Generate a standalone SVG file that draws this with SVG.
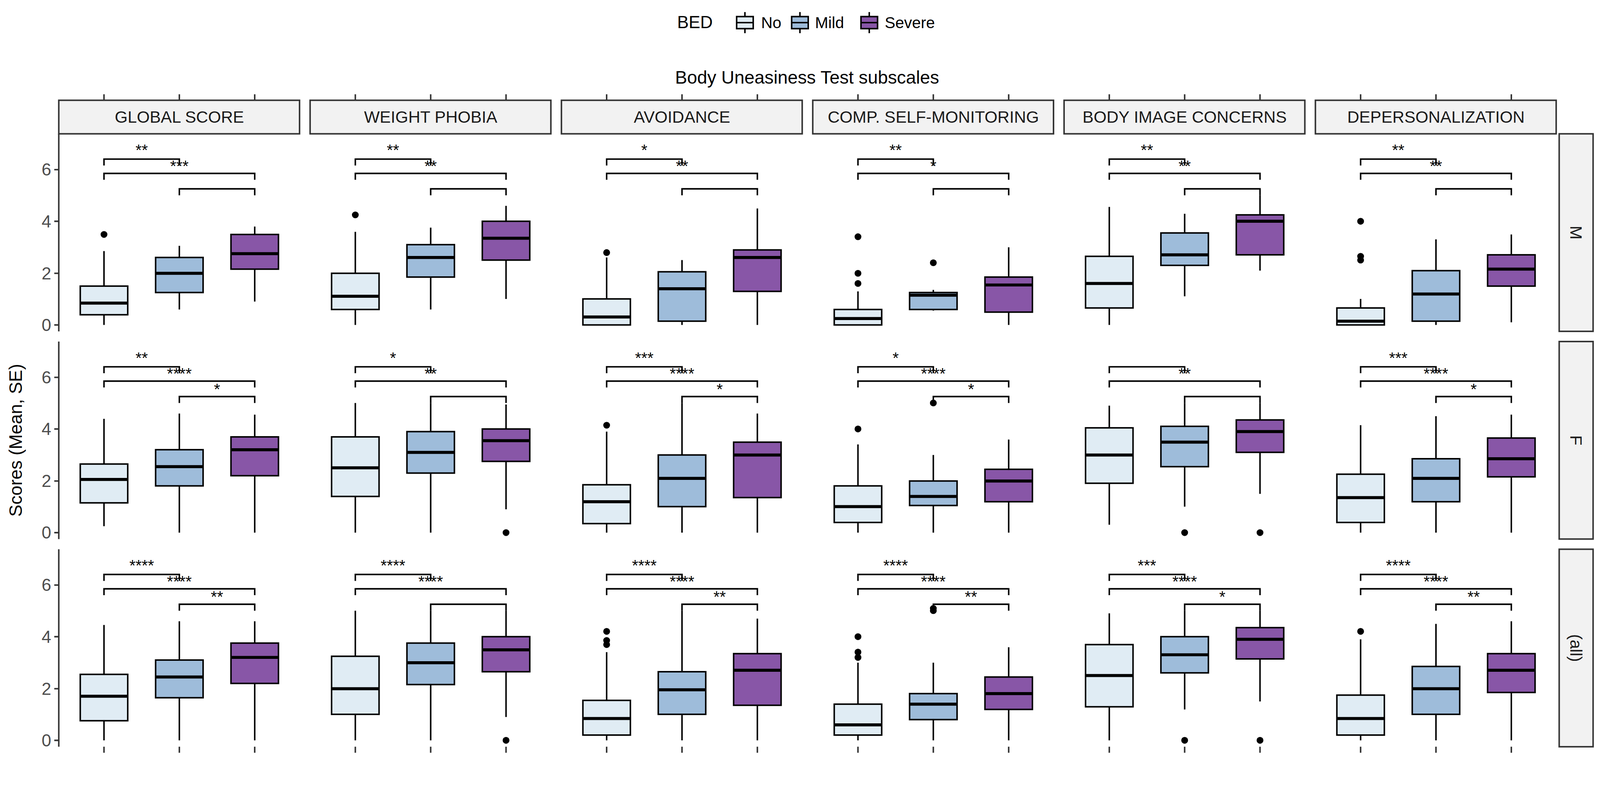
<svg xmlns="http://www.w3.org/2000/svg" xmlns:xlink="http://www.w3.org/1999/xlink" width="4251" height="2019" viewBox="0 0 4251 2019">
<style>
text{font-family:"Liberation Sans",Arial,sans-serif}
.n{fill:#E0ECF4;stroke:#000;stroke-width:4}
.m{fill:#9EBCDA;stroke:#000;stroke-width:4}
.s{fill:#8856A7;stroke:#000;stroke-width:4}
.w{stroke:#000;stroke-width:4}
.md{stroke:#000;stroke-width:8}
.o{fill:#000}
.br{fill:none;stroke:#000;stroke-width:4}
.lab{font-size:42px;text-anchor:middle;fill:#000}
.strip{fill:#F2F2F2;stroke:#333;stroke-width:4}
.st{font-size:44px;text-anchor:middle;fill:#1A1A1A}
.ax{stroke:#333;stroke-width:4}
.tl{font-size:46px;text-anchor:end;fill:#4D4D4D}
</style>
<defs>
<path id="brk" class="br" d="M120,84V67H320V84M120,122V105H520V122M320,163V146H520V163"/>
<g id="yax"><line class="ax" x1="0" y1="0" x2="0" y2="524"/><path class="ax" d="M-12,507H0M-12,370H0M-12,232H0M-12,95H0"/>
<text class="tl" x="-20" y="523">0</text><text class="tl" x="-20" y="386">2</text><text class="tl" x="-20" y="248">4</text><text class="tl" x="-20" y="111">6</text></g>
<path id="tk" class="ax" d="M120,0V16M320,0V16M520,0V16"/>
</defs>
<rect width="4251" height="2019" fill="#fff"/>
<g transform="scale(0.9646)">
<g id="legend">
<text x="1797" y="75" font-size="46" fill="#000">BED</text>
<line class="w" x1="1977" y1="32" x2="1977" y2="88"/><rect class="n" x="1955" y="44" width="44" height="32" /><line class="w" x1="1955" y1="60" x2="1999" y2="60"/>
<text x="2020" y="75" font-size="42">No</text>
<line class="w" x1="2123" y1="32" x2="2123" y2="88"/><rect class="m" x="2101" y="44" width="44" height="32" /><line class="w" x1="2101" y1="60" x2="2145" y2="60"/>
<text x="2163" y="75" font-size="42">Mild</text>
<line class="w" x1="2307" y1="32" x2="2307" y2="88"/><rect class="s" x="2285" y="44" width="44" height="32" /><line class="w" x1="2285" y1="60" x2="2329" y2="60"/>
<text x="2348" y="75" font-size="42">Severe</text>
</g>
<text x="2142" y="222" font-size="48" text-anchor="middle" fill="#000">Body Uneasiness Test subscales</text>
<text transform="translate(58,1168) rotate(-90)" font-size="48" text-anchor="middle" fill="#000">Scores (Mean, SE)</text>
<g id="strips">
<use href="#tk" x="156" y="250"/><rect class="strip" x="156" y="266" width="639" height="89"/><text class="st" x="476" y="326">GLOBAL SCORE</text>
<use href="#tk" x="823" y="250"/><rect class="strip" x="823" y="266" width="639" height="89"/><text class="st" x="1143" y="326">WEIGHT PHOBIA</text>
<use href="#tk" x="1490" y="250"/><rect class="strip" x="1490" y="266" width="639" height="89"/><text class="st" x="1810" y="326">AVOIDANCE</text>
<use href="#tk" x="2157" y="250"/><rect class="strip" x="2157" y="266" width="639" height="89"/><text class="st" x="2477" y="326">COMP. SELF-MONITORING</text>
<use href="#tk" x="2824" y="250"/><rect class="strip" x="2824" y="266" width="639" height="89"/><text class="st" x="3144" y="326">BODY IMAGE CONCERNS</text>
<use href="#tk" x="3491" y="250"/><rect class="strip" x="3491" y="266" width="639" height="89"/><text class="st" x="3811" y="326">DEPERSONALIZATION</text>
<rect class="strip" x="4138" y="355" width="90" height="524"/><text class="st" transform="translate(4168,617) rotate(90)">M</text>
<rect class="strip" x="4138" y="906" width="90" height="524"/><text class="st" transform="translate(4168,1168) rotate(90)">F</text>
<rect class="strip" x="4138" y="1457" width="90" height="524"/><text class="st" transform="translate(4168,1719) rotate(90)">(all)</text>
</g>
<use href="#yax" x="156" y="355"/><use href="#yax" x="156" y="906"/><use href="#yax" x="156" y="1457"/>
<g id="bottomticks"><use href="#tk" x="156" y="1981"/><use href="#tk" x="823" y="1981"/><use href="#tk" x="1490" y="1981"/><use href="#tk" x="2157" y="1981"/><use href="#tk" x="2824" y="1981"/><use href="#tk" x="3491" y="1981"/></g>

<g id="m1" transform="translate(156,355)">
<line class="w" x1="120" y1="507" x2="120" y2="311"/><rect class="n" x="57" y="404" width="126" height="76"/><line class="md" x1="57" y1="449" x2="183" y2="449"/><circle class="o" cx="120" cy="267" r="9"/>
<line class="w" x1="320" y1="466" x2="320" y2="297"/><rect class="m" x="257" y="328" width="126" height="93"/><line class="md" x1="257" y1="370" x2="383" y2="370"/>
<line class="w" x1="520" y1="445" x2="520" y2="246"/><rect class="s" x="457" y="267" width="126" height="92"/><line class="md" x1="457" y1="318" x2="583" y2="318"/>
<use href="#brk"/><text class="lab" x="220" y="58">**</text><text class="lab" x="320" y="100">***</text></g>
<g id="m2" transform="translate(823,355)">
<line class="w" x1="120" y1="507" x2="120" y2="260"/><rect class="n" x="57" y="370" width="126" height="96"/><line class="md" x1="57" y1="431" x2="183" y2="431"/><circle class="o" cx="120" cy="215" r="9"/>
<line class="w" x1="320" y1="466" x2="320" y2="249"/><rect class="m" x="257" y="294" width="126" height="86"/><line class="md" x1="257" y1="328" x2="383" y2="328"/>
<line class="w" x1="520" y1="438" x2="520" y2="191"/><rect class="s" x="457" y="232" width="126" height="103"/><line class="md" x1="457" y1="277" x2="583" y2="277"/>
<use href="#brk"/><text class="lab" x="220" y="58">**</text><text class="lab" x="320" y="100">**</text></g>
<g id="m3" transform="translate(1490,355)">
<line class="w" x1="120" y1="507" x2="120" y2="328"/><rect class="n" x="57" y="438" width="126" height="69"/><line class="md" x1="57" y1="486" x2="183" y2="486"/><circle class="o" cx="120" cy="315" r="9"/>
<line class="w" x1="320" y1="507" x2="320" y2="335"/><rect class="m" x="257" y="366" width="126" height="131"/><line class="md" x1="257" y1="411" x2="383" y2="411"/>
<line class="w" x1="520" y1="507" x2="520" y2="198"/><rect class="s" x="457" y="308" width="126" height="110"/><line class="md" x1="457" y1="328" x2="583" y2="328"/>
<use href="#brk"/><text class="lab" x="220" y="58">*</text><text class="lab" x="320" y="100">**</text></g>
<g id="m4" transform="translate(2157,355)">
<line class="w" x1="120" y1="507" x2="120" y2="418"/><rect class="n" x="57" y="466" width="126" height="41"/><line class="md" x1="57" y1="490" x2="183" y2="490"/><circle class="o" cx="120" cy="397" r="9"/><circle class="o" cx="120" cy="370" r="9"/><circle class="o" cx="120" cy="273" r="9"/>
<line class="w" x1="320" y1="469" x2="320" y2="414"/><rect class="m" x="257" y="421" width="126" height="45"/><line class="md" x1="257" y1="428" x2="383" y2="428"/><circle class="o" cx="320" cy="342" r="9"/>
<line class="w" x1="520" y1="507" x2="520" y2="301"/><rect class="s" x="457" y="380" width="126" height="93"/><line class="md" x1="457" y1="401" x2="583" y2="401"/>
<use href="#brk"/><text class="lab" x="220" y="58">**</text><text class="lab" x="320" y="100">*</text></g>
<g id="m5" transform="translate(2824,355)">
<line class="w" x1="120" y1="507" x2="120" y2="194"/><rect class="n" x="57" y="325" width="126" height="137"/><line class="md" x1="57" y1="397" x2="183" y2="397"/>
<line class="w" x1="320" y1="431" x2="320" y2="212"/><rect class="m" x="257" y="263" width="126" height="86"/><line class="md" x1="257" y1="321" x2="383" y2="321"/>
<line class="w" x1="520" y1="363" x2="520" y2="163"/><rect class="s" x="457" y="215" width="126" height="106"/><line class="md" x1="457" y1="232" x2="583" y2="232"/>
<use href="#brk"/><text class="lab" x="220" y="58">**</text><text class="lab" x="320" y="100">**</text></g>
<g id="m6" transform="translate(3491,355)">
<line class="w" x1="120" y1="507" x2="120" y2="438"/><rect class="n" x="57" y="462" width="126" height="45"/><line class="md" x1="57" y1="497" x2="183" y2="497"/><circle class="o" cx="120" cy="335" r="9"/><circle class="o" cx="120" cy="325" r="9"/><circle class="o" cx="120" cy="232" r="9"/>
<line class="w" x1="320" y1="507" x2="320" y2="280"/><rect class="m" x="257" y="363" width="126" height="134"/><line class="md" x1="257" y1="425" x2="383" y2="425"/>
<line class="w" x1="520" y1="500" x2="520" y2="267"/><rect class="s" x="457" y="321" width="126" height="83"/><line class="md" x1="457" y1="359" x2="583" y2="359"/>
<use href="#brk"/><text class="lab" x="220" y="58">**</text><text class="lab" x="320" y="100">**</text></g>

<g id="f1" transform="translate(156,906)">
<line class="w" x1="120" y1="490" x2="120" y2="205"/><rect class="n" x="57" y="325" width="126" height="103"/><line class="md" x1="57" y1="366" x2="183" y2="366"/>
<line class="w" x1="320" y1="507" x2="320" y2="191"/><rect class="m" x="257" y="287" width="126" height="96"/><line class="md" x1="257" y1="332" x2="383" y2="332"/>
<line class="w" x1="520" y1="507" x2="520" y2="194"/><rect class="s" x="457" y="253" width="126" height="103"/><line class="md" x1="457" y1="287" x2="583" y2="287"/>
<use href="#brk"/><text class="lab" x="220" y="58">**</text><text class="lab" x="320" y="100">****</text><text class="lab" x="420" y="141">*</text></g>
<g id="f2" transform="translate(823,906)">
<line class="w" x1="120" y1="507" x2="120" y2="163"/><rect class="n" x="57" y="253" width="126" height="158"/><line class="md" x1="57" y1="335" x2="183" y2="335"/>
<line class="w" x1="320" y1="507" x2="320" y2="163"/><rect class="m" x="257" y="239" width="126" height="110"/><line class="md" x1="257" y1="294" x2="383" y2="294"/>
<line class="w" x1="520" y1="445" x2="520" y2="167"/><rect class="s" x="457" y="232" width="126" height="86"/><line class="md" x1="457" y1="263" x2="583" y2="263"/><circle class="o" cx="520" cy="507" r="9"/>
<use href="#brk"/><text class="lab" x="220" y="58">*</text><text class="lab" x="320" y="100">**</text></g>
<g id="f3" transform="translate(1490,906)">
<line class="w" x1="120" y1="507" x2="120" y2="239"/><rect class="n" x="57" y="380" width="126" height="103"/><line class="md" x1="57" y1="425" x2="183" y2="425"/><circle class="o" cx="120" cy="222" r="9"/>
<line class="w" x1="320" y1="507" x2="320" y2="163"/><rect class="m" x="257" y="301" width="126" height="137"/><line class="md" x1="257" y1="363" x2="383" y2="363"/>
<line class="w" x1="520" y1="507" x2="520" y2="191"/><rect class="s" x="457" y="267" width="126" height="147"/><line class="md" x1="457" y1="301" x2="583" y2="301"/>
<use href="#brk"/><text class="lab" x="220" y="58">***</text><text class="lab" x="320" y="100">****</text><text class="lab" x="420" y="141">*</text></g>
<g id="f4" transform="translate(2157,906)">
<line class="w" x1="120" y1="507" x2="120" y2="273"/><rect class="n" x="57" y="383" width="126" height="97"/><line class="md" x1="57" y1="438" x2="183" y2="438"/><circle class="o" cx="120" cy="232" r="9"/>
<line class="w" x1="320" y1="507" x2="320" y2="301"/><rect class="m" x="257" y="370" width="126" height="65"/><line class="md" x1="257" y1="411" x2="383" y2="411"/><circle class="o" cx="320" cy="163" r="9"/>
<line class="w" x1="520" y1="507" x2="520" y2="260"/><rect class="s" x="457" y="339" width="126" height="86"/><line class="md" x1="457" y1="370" x2="583" y2="370"/>
<use href="#brk"/><text class="lab" x="220" y="58">*</text><text class="lab" x="320" y="100">****</text><text class="lab" x="420" y="141">*</text></g>
<g id="f5" transform="translate(2824,906)">
<line class="w" x1="120" y1="486" x2="120" y2="170"/><rect class="n" x="57" y="229" width="126" height="147"/><line class="md" x1="57" y1="301" x2="183" y2="301"/>
<line class="w" x1="320" y1="438" x2="320" y2="163"/><rect class="m" x="257" y="225" width="126" height="107"/><line class="md" x1="257" y1="267" x2="383" y2="267"/><circle class="o" cx="320" cy="507" r="9"/>
<line class="w" x1="520" y1="404" x2="520" y2="163"/><rect class="s" x="457" y="208" width="126" height="86"/><line class="md" x1="457" y1="239" x2="583" y2="239"/><circle class="o" cx="520" cy="507" r="9"/>
<use href="#brk"/><text class="lab" x="320" y="100">**</text></g>
<g id="f6" transform="translate(3491,906)">
<line class="w" x1="120" y1="507" x2="120" y2="222"/><rect class="n" x="57" y="352" width="126" height="128"/><line class="md" x1="57" y1="414" x2="183" y2="414"/>
<line class="w" x1="320" y1="507" x2="320" y2="198"/><rect class="m" x="257" y="311" width="126" height="114"/><line class="md" x1="257" y1="363" x2="383" y2="363"/>
<line class="w" x1="520" y1="507" x2="520" y2="194"/><rect class="s" x="457" y="256" width="126" height="103"/><line class="md" x1="457" y1="311" x2="583" y2="311"/>
<use href="#brk"/><text class="lab" x="220" y="58">***</text><text class="lab" x="320" y="100">****</text><text class="lab" x="420" y="141">*</text></g>

<g id="a1" transform="translate(156,1457)">
<line class="w" x1="120" y1="507" x2="120" y2="201"/><rect class="n" x="57" y="332" width="126" height="123"/><line class="md" x1="57" y1="390" x2="183" y2="390"/>
<line class="w" x1="320" y1="507" x2="320" y2="191"/><rect class="m" x="257" y="294" width="126" height="100"/><line class="md" x1="257" y1="339" x2="383" y2="339"/>
<line class="w" x1="520" y1="507" x2="520" y2="191"/><rect class="s" x="457" y="249" width="126" height="107"/><line class="md" x1="457" y1="287" x2="583" y2="287"/>
<use href="#brk"/><text class="lab" x="220" y="58">****</text><text class="lab" x="320" y="100">****</text><text class="lab" x="420" y="141">**</text></g>
<g id="a2" transform="translate(823,1457)">
<line class="w" x1="120" y1="507" x2="120" y2="163"/><rect class="n" x="57" y="284" width="126" height="154"/><line class="md" x1="57" y1="370" x2="183" y2="370"/>
<line class="w" x1="320" y1="507" x2="320" y2="163"/><rect class="m" x="257" y="249" width="126" height="110"/><line class="md" x1="257" y1="301" x2="383" y2="301"/>
<line class="w" x1="520" y1="445" x2="520" y2="163"/><rect class="s" x="457" y="232" width="126" height="93"/><line class="md" x1="457" y1="267" x2="583" y2="267"/><circle class="o" cx="520" cy="507" r="9"/>
<use href="#brk"/><text class="lab" x="220" y="58">****</text><text class="lab" x="320" y="100">****</text></g>
<g id="a3" transform="translate(1490,1457)">
<line class="w" x1="120" y1="507" x2="120" y2="273"/><rect class="n" x="57" y="401" width="126" height="92"/><line class="md" x1="57" y1="449" x2="183" y2="449"/><circle class="o" cx="120" cy="253" r="9"/><circle class="o" cx="120" cy="242" r="9"/><circle class="o" cx="120" cy="218" r="9"/>
<line class="w" x1="320" y1="507" x2="320" y2="163"/><rect class="m" x="257" y="325" width="126" height="113"/><line class="md" x1="257" y1="373" x2="383" y2="373"/>
<line class="w" x1="520" y1="507" x2="520" y2="184"/><rect class="s" x="457" y="277" width="126" height="137"/><line class="md" x1="457" y1="321" x2="583" y2="321"/>
<use href="#brk"/><text class="lab" x="220" y="58">****</text><text class="lab" x="320" y="100">****</text><text class="lab" x="420" y="141">**</text></g>
<g id="a4" transform="translate(2157,1457)">
<line class="w" x1="120" y1="507" x2="120" y2="301"/><rect class="n" x="57" y="411" width="126" height="82"/><line class="md" x1="57" y1="466" x2="183" y2="466"/><circle class="o" cx="120" cy="287" r="9"/><circle class="o" cx="120" cy="273" r="9"/><circle class="o" cx="120" cy="232" r="9"/>
<line class="w" x1="320" y1="507" x2="320" y2="301"/><rect class="m" x="257" y="383" width="126" height="69"/><line class="md" x1="257" y1="411" x2="383" y2="411"/><circle class="o" cx="320" cy="163" r="9"/><circle class="o" cx="320" cy="157" r="9"/>
<line class="w" x1="520" y1="507" x2="520" y2="260"/><rect class="s" x="457" y="339" width="126" height="86"/><line class="md" x1="457" y1="383" x2="583" y2="383"/>
<use href="#brk"/><text class="lab" x="220" y="58">****</text><text class="lab" x="320" y="100">****</text><text class="lab" x="420" y="141">**</text></g>
<g id="a5" transform="translate(2824,1457)">
<line class="w" x1="120" y1="507" x2="120" y2="170"/><rect class="n" x="57" y="253" width="126" height="165"/><line class="md" x1="57" y1="335" x2="183" y2="335"/>
<line class="w" x1="320" y1="425" x2="320" y2="163"/><rect class="m" x="257" y="232" width="126" height="96"/><line class="md" x1="257" y1="280" x2="383" y2="280"/><circle class="o" cx="320" cy="507" r="9"/>
<line class="w" x1="520" y1="404" x2="520" y2="163"/><rect class="s" x="457" y="208" width="126" height="83"/><line class="md" x1="457" y1="239" x2="583" y2="239"/><circle class="o" cx="520" cy="507" r="9"/>
<use href="#brk"/><text class="lab" x="220" y="58">***</text><text class="lab" x="320" y="100">****</text><text class="lab" x="420" y="141">*</text></g>
<g id="a6" transform="translate(3491,1457)">
<line class="w" x1="120" y1="507" x2="120" y2="239"/><rect class="n" x="57" y="387" width="126" height="106"/><line class="md" x1="57" y1="449" x2="183" y2="449"/><circle class="o" cx="120" cy="218" r="9"/>
<line class="w" x1="320" y1="507" x2="320" y2="198"/><rect class="m" x="257" y="311" width="126" height="127"/><line class="md" x1="257" y1="370" x2="383" y2="370"/>
<line class="w" x1="520" y1="507" x2="520" y2="191"/><rect class="s" x="457" y="277" width="126" height="103"/><line class="md" x1="457" y1="321" x2="583" y2="321"/>
<use href="#brk"/><text class="lab" x="220" y="58">****</text><text class="lab" x="320" y="100">****</text><text class="lab" x="420" y="141">**</text></g>
</g>
</svg>
